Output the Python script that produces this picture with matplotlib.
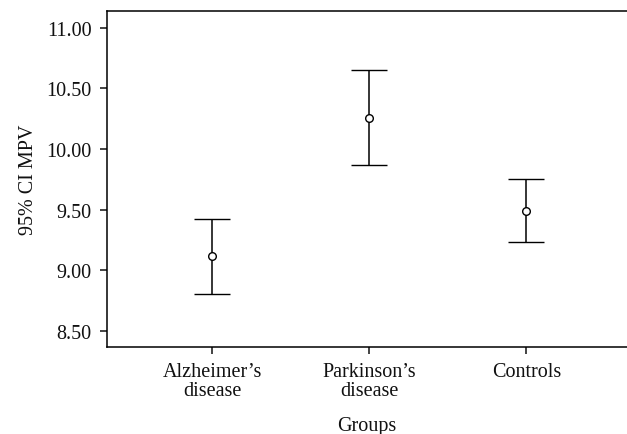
import matplotlib
matplotlib.use("Agg")
import matplotlib.pyplot as plt
import numpy as np

groups = ["Alzheimer\u2019s\ndisease", "Parkinson\u2019s\ndisease", "Controls"]
means = [9.12, 10.26, 9.49]
ci_low = [8.80, 9.865, 9.23]
ci_high = [9.42, 10.65, 9.75]
y_ticks = [8.50, 9.00, 9.50, 10.00, 10.50, 11.00]

plt.rcParams['font.family'] = ['Liberation Serif', 'DejaVu Serif']

fig = plt.figure(figsize=(6.27, 4.35), dpi=100)
ax = fig.add_axes([0.1707, 0.2, 0.8293, 0.7724])

x = np.arange(len(groups))
means = np.array(means)
err = [means - np.array(ci_low), np.array(ci_high) - means]
ax.errorbar(x, means, yerr=err, fmt='o', color='black', mfc='white', mec='black',
            ms=5.5, mew=1.0, elinewidth=1.1, capsize=13, capthick=1.1)

ax.set_xlim(-0.67, 2.64)
ax.set_ylim(8.365, 11.14)
ax.set_yticks(y_ticks)
ax.set_yticklabels([f"{v:.2f}" for v in y_ticks])
ax.set_xticks(x)
ax.set_xticklabels(groups, linespacing=0.95)

ax.spines['right'].set_visible(False)
for s in ['left', 'top', 'bottom']:
    ax.spines[s].set_linewidth(1.1)
ax.tick_params(axis='both', direction='out', length=5, width=1.1, labelsize=14.5, colors='#111111')
ax.tick_params(axis='y', pad=6)
ax.tick_params(axis='x', pad=6)

ax.set_ylabel("95% CI MPV", fontsize=14.5, labelpad=6, color='#111111')
ax.set_xlabel("Groups", fontsize=14.5, labelpad=12, color='#111111')

fig.savefig("out.png", dpi=100)
